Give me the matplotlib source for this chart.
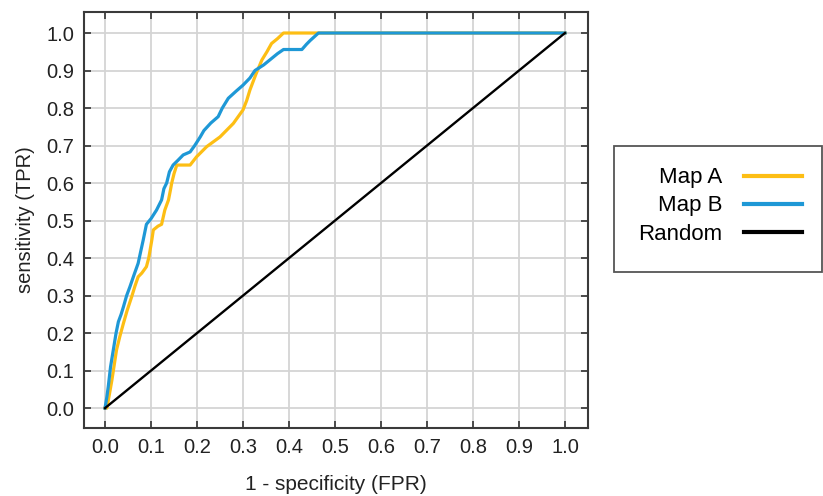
import matplotlib
matplotlib.use("Agg")
import matplotlib.pyplot as plt
from matplotlib.patches import Rectangle
from matplotlib.lines import Line2D

plt.rcParams['font.family'] = ['Liberation Sans', 'DejaVu Sans']

# Map A (yellow) ROC points
map_a_fpr = [0.0, 0.004, 0.010, 0.015, 0.020, 0.025, 0.032, 0.040, 0.048, 0.058, 0.065, 0.072,
             0.080, 0.090, 0.095, 0.098, 0.102, 0.105, 0.115, 0.123, 0.130, 0.138, 0.142, 0.145,
             0.150, 0.156, 0.185, 0.199, 0.221, 0.250, 0.279, 0.300, 0.308, 0.315, 0.328, 0.341,
             0.352, 0.362, 0.375, 0.388, 0.464, 1.0]
map_a_tpr = [0.0, 0.0, 0.040, 0.075, 0.115, 0.155, 0.190, 0.226, 0.260, 0.297, 0.325, 0.350,
             0.360, 0.377, 0.400, 0.421, 0.450, 0.475, 0.485, 0.490, 0.528, 0.555, 0.580, 0.600,
             0.625, 0.648, 0.648, 0.670, 0.697, 0.723, 0.759, 0.795, 0.820, 0.848, 0.890, 0.928,
             0.950, 0.972, 0.985, 1.0, 1.0, 1.0]

# Map B (blue) ROC points
map_b_fpr = [0.0, 0.004, 0.007, 0.012, 0.018, 0.024, 0.029, 0.035, 0.040, 0.047, 0.054, 0.063,
             0.072, 0.078, 0.083, 0.090, 0.100, 0.112, 0.123, 0.128, 0.134, 0.140, 0.148, 0.158,
             0.170, 0.185, 0.195, 0.207, 0.215, 0.230, 0.246, 0.255, 0.268, 0.285, 0.300, 0.315,
             0.326, 0.345, 0.362, 0.375, 0.388, 0.428, 0.438, 0.446, 0.455, 0.464, 1.0]
map_b_tpr = [0.0, 0.030, 0.057, 0.110, 0.155, 0.200, 0.230, 0.250, 0.270, 0.300, 0.323, 0.355,
             0.386, 0.420, 0.448, 0.490, 0.505, 0.528, 0.555, 0.585, 0.600, 0.630, 0.648, 0.660,
             0.675, 0.683, 0.700, 0.723, 0.740, 0.760, 0.777, 0.800, 0.826, 0.845, 0.861, 0.880,
             0.900, 0.915, 0.932, 0.945, 0.956, 0.956, 0.970, 0.980, 0.990, 1.0, 1.0]

# Random classifier
random_fpr = [0.0, 0.1, 0.2, 0.3, 0.4, 0.5, 0.6, 0.7, 0.8, 0.9, 1.0]
random_tpr = [0.0, 0.1, 0.2, 0.3, 0.4, 0.5, 0.6, 0.7, 0.8, 0.9, 1.0]

ticks = [0.0, 0.1, 0.2, 0.3, 0.4, 0.5, 0.6, 0.7, 0.8, 0.9, 1.0]
tick_labels = ["0.0", "0.1", "0.2", "0.3", "0.4", "0.5", "0.6", "0.7", "0.8", "0.9", "1.0"]

series_labels = ["Map A", "Map B", "Random"]
series_colors = ["#FDBE14", "#1E98D6", "black"]

fig = plt.figure(figsize=(8.23, 4.96), dpi=100)
ax = fig.add_axes([84/823, 68/496, 504/823, 416/496])

ax.plot(map_a_fpr, map_a_tpr, color=series_colors[0], lw=2.3, zorder=3)
ax.plot(map_b_fpr, map_b_tpr, color=series_colors[1], lw=2.3, zorder=4)
ax.plot(random_fpr, random_tpr, color=series_colors[2], lw=1.7, zorder=5)

ax.set_xlim(-0.0457, 1.05)
ax.set_ylim(-0.053, 1.056)
ax.set_xticks(ticks)
ax.set_xticklabels(tick_labels)
ax.set_yticks(ticks)
ax.set_yticklabels(tick_labels)
ax.grid(True, color='#d4d4d4', lw=1.3)
ax.set_axisbelow(True)
ax.tick_params(direction='in', length=5, width=1.2, colors='#333333', labelcolor='#222222',
               labelsize=14.5, top=True, right=True, pad=7)
for s in ax.spines.values():
    s.set_color('#3a3a3a')
    s.set_linewidth(1.5)

ax.set_xlabel('1 - specificity (FPR)', fontsize=15, color='#222222', labelpad=13)
ax.set_ylabel('sensitivity (TPR)', fontsize=14.5, color='#222222', labelpad=8)

# Legend box
fig.patches.append(Rectangle((614/823, (496-272)/496), 208/823, 126/496,
                             transform=fig.transFigure, fill=False,
                             edgecolor='#555555', lw=1.3))
handles = [Line2D([], [], color=c, lw=3.0) for c in series_colors]
fig.legend(handles, series_labels, loc='center', bbox_to_anchor=(720/823, (496-206)/496),
           frameon=False, markerfirst=False, fontsize=16, handlelength=2.6,
           handletextpad=0.95, labelspacing=0.32, borderpad=0)

fig.savefig('out.png', dpi=100)
